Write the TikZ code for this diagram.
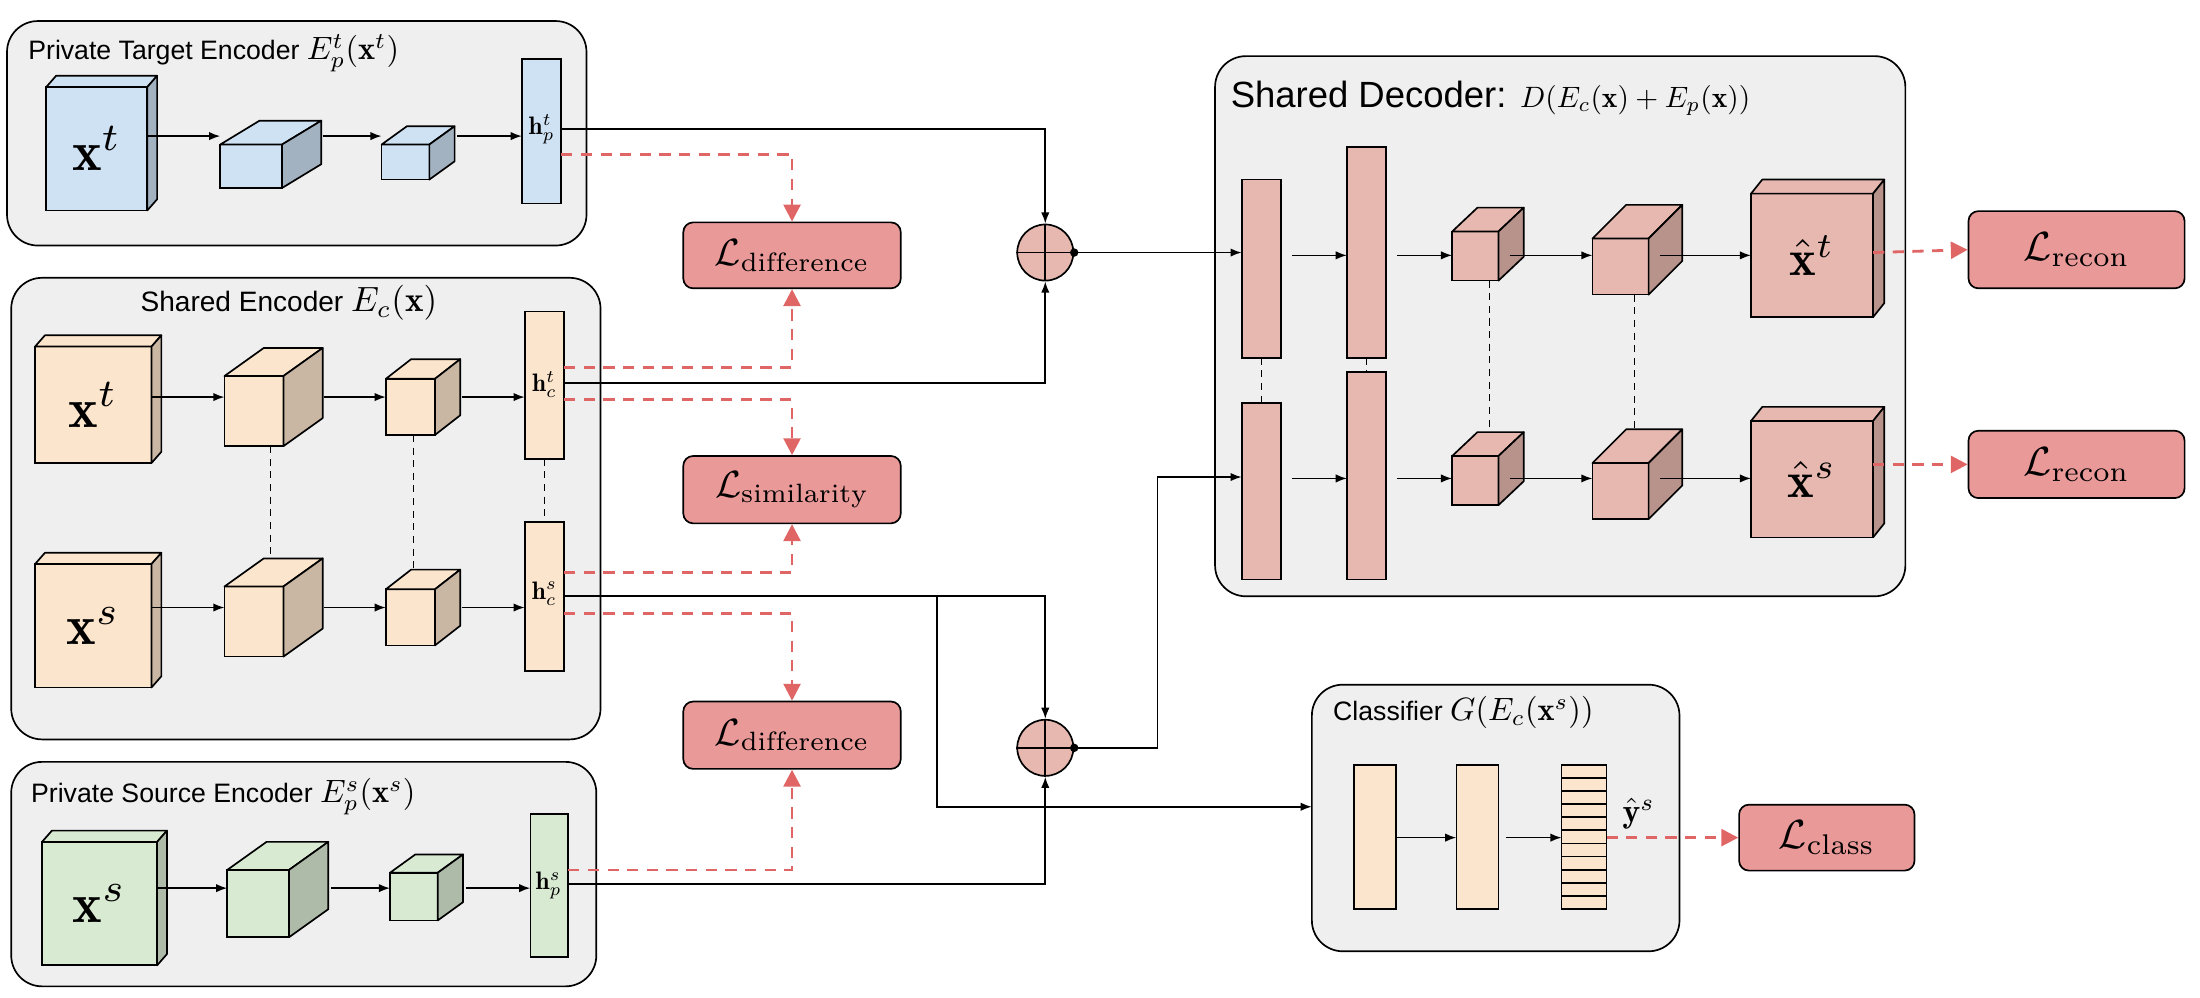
\documentclass[tikz,border=0pt]{standalone}
\usepackage{graphicx}
\usepackage{fontspec}
\setsansfont{Liberation Sans}
\usetikzlibrary{arrows.meta,calc}
\newcommand{\mz}[2]{\scalebox{#1}{\normalsize$#2$}}
\definecolor{bgc}{HTML}{EFEFEF}
\definecolor{bluef}{HTML}{CFE2F3}\definecolor{blues}{HTML}{A3B2C1}
\definecolor{orf}{HTML}{FCE5CD}\definecolor{ors}{HTML}{C9B7A4}
\definecolor{grf}{HTML}{D9EAD3}\definecolor{grs}{HTML}{ADBBA8}
\definecolor{pkf}{HTML}{E6B8AF}\definecolor{pks}{HTML}{B8938C}
\definecolor{lossf}{HTML}{EA9999}\definecolor{redd}{HTML}{E06666}
\tikzset{
 panel/.style={draw,line width=1.2pt,fill=bgc,rounded corners=22pt},
 lossbox/.style={draw,line width=1.2pt,fill=lossf,rounded corners=7pt,inner sep=0pt},
 ar/.style={line width=1.2pt,-{Latex[length=8pt,width=6pt]}},
 ln/.style={line width=1.2pt},
 rd/.style={line width=2pt,draw=redd,dash pattern=on 8pt off 6pt,-{Triangle[length=12pt,width=12pt,fill=redd]},color=redd},
 vd/.style={line width=0.9pt,dash pattern=on 5pt off 4pt},
 ttl/.style={font=\sffamily\fontsize{19}{22}\selectfont,anchor=west,inner sep=0pt},
 lab/.style={inner sep=0pt},
 hl/.style={inner sep=0pt}
}
% \cubeb{name}{x}{y}{w}{h}{dx}{dy}{front}{side}
\newcommand{\cubeb}[9]{%
 \node[draw,line width=1.2pt,fill=#8,minimum width=#4pt,minimum height=#5pt,inner sep=0pt,outer sep=0pt,anchor=north west] (#1) at (#2,#3) {};
 \draw[line width=1.2pt,fill=#8,line join=round] (#1.north west) -- ++(#6,-#7) -- ++(#4,0) -- (#1.north east) -- cycle;
 \draw[line width=1.2pt,fill=#9,line join=round] (#1.north east) -- ++(#6,-#7) -- ++(0,#5) -- (#1.south east) -- cycle;
}
\newcommand{\barb}[6]{%
 \node[draw,line width=1.2pt,fill=#6,minimum width=#4pt,minimum height=#5pt,inner sep=0pt,outer sep=0pt,anchor=north west] (#1) at (#2,#3) {};
}
\begin{document}
\begin{tikzpicture}[x=1pt,y=-1pt]
\useasboundingbox (0,0) rectangle (1568,711);
% panels
\draw[panel] (5,15) rectangle (418,175);
\draw[panel] (8,198) rectangle (428,527);
\draw[panel] (8,543) rectangle (425,703);
\draw[panel] (866,40) rectangle (1358,425);
\draw[panel] (935,488) rectangle (1197,678);
\node[ttl] at (20,38) {Private Target Encoder \mz{2.3}{E_p^t(\mathbf{x}^t)}};
\node[ttl,font=\sffamily\fontsize{20}{22}\selectfont] at (100,216) {Shared Encoder \mz{2.5}{E_c(\mathbf{x})}};
\node[ttl] at (22,568) {Private Source Encoder \mz{2.3}{E_p^s(\mathbf{x}^s)}};
\node[ttl,font=\sffamily\fontsize{26}{28}\selectfont] at (877,70) {Shared Decoder: \mz{2.1}{D(E_c(\mathbf{x})+E_p(\mathbf{x}))}};
\node[ttl] at (950,508) {Classifier \mz{2.3}{G(E_c(\mathbf{x}^s))}};
% private target
\cubeb{pt1}{33}{62}{72}{88}{7}{8}{bluef}{blues}
\node[lab] at (pt1.center) {\mz{4}{\mathbf{x}^t}};
\cubeb{pt2}{157}{103}{44}{31}{28}{17}{bluef}{blues}
\cubeb{pt3}{272}{103}{34}{25}{18}{13}{bluef}{blues}
\barb{hpt}{372}{42}{28}{103}{bluef}
\node[hl] at (386,92) {\mz{1.8}{\mathbf{h}_p^t}};
\draw[ar] (pt1.east|-0,97) -- (pt2.west|-0,97);
\draw[ar] (230,97) -- (pt3.west|-0,97);
\draw[ar] (326,97) -- (hpt.west|-0,97);
% shared encoder top
\cubeb{st1}{25}{247}{83}{83}{7}{8}{orf}{ors}
\node[lab] at (st1.center) {\mz{4}{\mathbf{x}^t}};
\cubeb{st2}{160}{268}{42}{50}{28}{20}{orf}{ors}
\cubeb{st3}{275}{270}{35}{40}{18}{14}{orf}{ors}
\barb{hct}{374}{222}{28}{105}{orf}
\node[hl] at (388,274) {\mz{1.8}{\mathbf{h}_c^t}};
\draw[ar] (st1.east|-0,283) -- (st2.west|-0,283);
\draw[ar] (231,283) -- (st3.west|-0,283);
\draw[ar] (329,283) -- (hct.west|-0,283);
% shared encoder bottom
\cubeb{ss1}{25}{402}{83}{88}{7}{8}{orf}{ors}
\node[lab] at (ss1.center) {\mz{4}{\mathbf{x}^s}};
\cubeb{ss2}{160}{418}{42}{50}{28}{20}{orf}{ors}
\cubeb{ss3}{275}{420}{35}{40}{18}{14}{orf}{ors}
\barb{hcs}{374}{372}{28}{106}{orf}
\node[hl] at (388,423) {\mz{1.8}{\mathbf{h}_c^s}};
\draw[ar] (ss1.east|-0,433) -- (ss2.west|-0,433);
\draw[ar] (231,433) -- (ss3.west|-0,433);
\draw[ar] (329,433) -- (hcs.west|-0,433);
\draw[vd] ($(st2.south)+(12,0)$) -- ($(ss2.north)+(12,-20)$);
\draw[vd] ($(st3.south)+(2,0)$) -- ($(ss3.north)+(2,-14)$);
\draw[vd] (hct.south) -- (hcs.north);
% private source
\cubeb{ps1}{30}{600}{82}{88}{7}{8}{grf}{grs}
\node[lab] at (ps1.center) {\mz{4}{\mathbf{x}^s}};
\cubeb{ps2}{162}{620}{44}{48}{28}{20}{grf}{grs}
\cubeb{ps3}{278}{622}{34}{34}{18}{13}{grf}{grs}
\barb{hps}{378}{580}{27}{102}{grf}
\node[hl] at (391,631) {\mz{1.8}{\mathbf{h}_p^s}};
\draw[ar] (ps1.east|-0,633) -- (ps2.west|-0,633);
\draw[ar] (236,633) -- (ps3.west|-0,633);
\draw[ar] (332,633) -- (hps.west|-0,633);
% losses
\node[lossbox,minimum width=155pt,minimum height=47pt] (ld1) at (564.5,182) {\mz{2.7}{\mathcal{L}_{\mathrm{difference}}}};
\node[lossbox,minimum width=155pt,minimum height=48pt] (ls) at (564.5,349) {\mz{2.7}{\mathcal{L}_{\mathrm{similarity}}}};
\node[lossbox,minimum width=155pt,minimum height=48pt] (ld2) at (564.5,524) {\mz{2.7}{\mathcal{L}_{\mathrm{difference}}}};
\node[lossbox,minimum width=154pt,minimum height=55pt] (lr1) at (1480,178) {\mz{2.9}{\mathcal{L}_{\mathrm{recon}}}};
\node[lossbox,minimum width=154pt,minimum height=48pt] (lr2) at (1480,331) {\mz{2.9}{\mathcal{L}_{\mathrm{recon}}}};
\node[lossbox,minimum width=125pt,minimum height=47pt] (lc) at (1302,597) {\mz{2.9}{\mathcal{L}_{\mathrm{class}}}};
% plus circles
\node[draw,line width=1.2pt,fill=pkf,circle,minimum size=40pt,inner sep=0pt] (c1) at (745,180) {};
\node[draw,line width=1.2pt,fill=pkf,circle,minimum size=40pt,inner sep=0pt] (c2) at (745,533) {};
\foreach \c in {c1,c2}{\draw[ln] (\c.north)--(\c.south) (\c.west)--(\c.east); \fill (\c.east) circle (3pt);}
% red dashed
\draw[rd] (hpt.east|-0,110) -| (ld1.north);
\draw[rd] (hct.east|-0,262) -| (ld1.south);
\draw[rd] (hct.east|-0,285) -| (ls.north);
\draw[rd] (hcs.east|-0,408) -| (ls.south);
\draw[rd] (hcs.east|-0,437) -| (ld2.north);
\draw[rd] (hps.east|-0,620) -| (ld2.south);
% black connections
\draw[ar] (hpt.east|-0,92) -| (c1.north);
\draw[ar] (hct.east|-0,273) -| (c1.south);
\draw[ar] (hcs.east|-0,425) -| (c2.north);
\draw[ar] (hps.east|-0,630) -| (c2.south);
\coordinate (br) at (668,425);
\draw[ar] (br) |- (935,575);
% decoder
\barb{d1t}{885}{128}{28}{127}{pkf}
\barb{d2t}{960}{105}{28}{150}{pkf}
\cubeb{d3t}{1035}{165}{33}{35}{18}{17}{pkf}{pks}
\cubeb{d4t}{1135}{170}{40}{40}{24}{24}{pkf}{pks}
\cubeb{d5t}{1248}{138}{87}{88}{8}{10}{pkf}{pks}
\node[lab] at (d5t.center) {\mz{3.6}{\hat{\mathbf{x}}^t}};
\barb{d1s}{885}{287}{28}{126}{pkf}
\barb{d2s}{960}{265}{28}{148}{pkf}
\cubeb{d3s}{1035}{325}{33}{35}{18}{17}{pkf}{pks}
\cubeb{d4s}{1135}{330}{40}{40}{24}{24}{pkf}{pks}
\cubeb{d5s}{1248}{300}{87}{83}{8}{10}{pkf}{pks}
\node[lab] at (d5s.center) {\mz{3.6}{\hat{\mathbf{x}}^s}};
\draw[ar] (c1.east) -- (d1t.west|-0,180);
\draw[ar] (c2.east) -- (825,533) |- (d1s.west|-0,340);
\foreach \a/\b/\y in {d1t/d2t/182,d2t/d3t/182,d3t/d4t/182,d4t/d5t/182,d1s/d2s/341,d2s/d3s/341,d3s/d4s/341,d4s/d5s/341}{
 \draw[ar] ([xshift=8pt]\a.east|-0,\y) -- (\b.west|-0,\y);}
\draw[vd] (d1t.south) -- (d1s.north);
\draw[vd] (d2t.south) -- (d2s.north);
\draw[vd] ($(d3t.south)+(10,0)$) -- ($(d3s.north)+(10,-17)$);
\draw[vd] ($(d4t.south)+(10,0)$) -- ($(d4s.north)+(10,-24)$);
\draw[rd] (d5t.east|-0,180) -- (lr1.west);
\draw[rd] (d5s.east|-0,331) -- (lr2.west);
% classifier
\barb{g1}{965}{545}{30}{103}{orf}
\barb{g2}{1038}{545}{30}{103}{orf}
\barb{g3}{1113}{545}{32}{103}{orf}
\foreach \i in {1,...,10}{\draw[line width=1.2pt] (g3.west|-0,545+\i*9.36) -- (g3.east|-0,545+\i*9.36);}
\node[inner sep=0pt] at (1168,580) {\mz{2.4}{\hat{\mathbf{y}}^s}};
\draw[ar] (g1.east|-0,597) -- (g2.west|-0,597);
\draw[ar] ([xshift=5pt]g2.east|-0,597) -- (g3.west|-0,597);
\draw[rd] (g3.east|-0,597) -- (lc.west);
\end{tikzpicture}
\end{document}
